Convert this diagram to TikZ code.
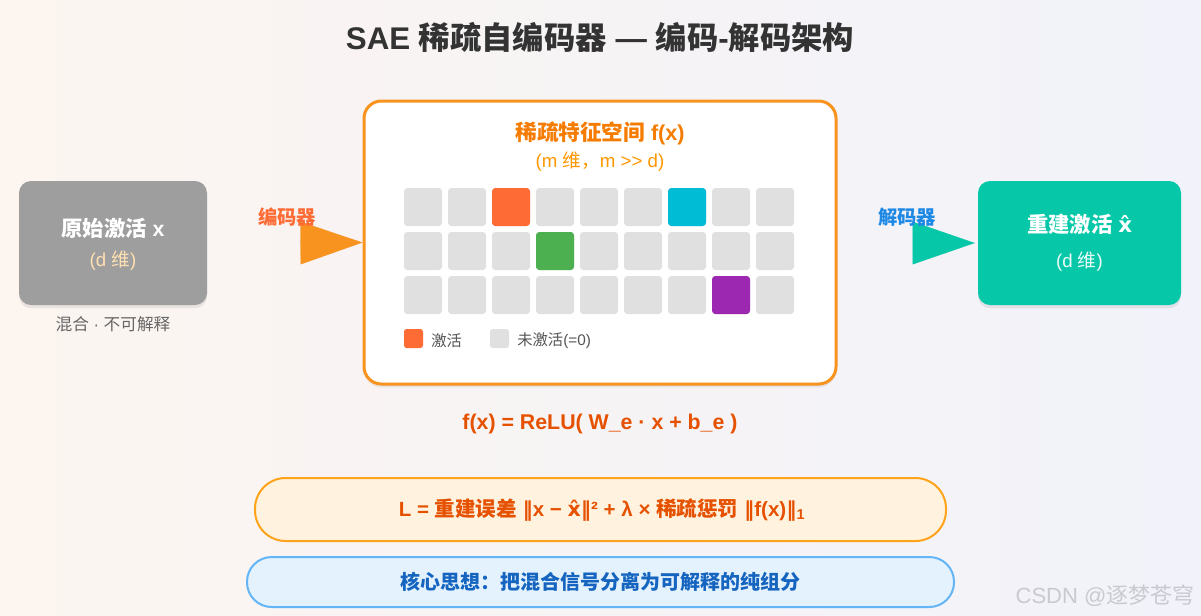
\documentclass[tikz,border=0pt]{standalone}
\usepackage{fontspec}
\setmainfont{Liberation Sans}
\newfontfamily\cjk{Noto Sans CJK SC}
\newfontfamily\dejavu{DejaVu Sans}
\usetikzlibrary{arrows.meta,shadows}
\definecolor{bgL}{HTML}{FCF5F0}
\definecolor{bgR}{HTML}{F1F2FA}
\definecolor{titlec}{HTML}{333333}
\definecolor{grayc}{HTML}{9E9E9E}
\definecolor{tealc}{HTML}{06C8A8}
\definecolor{orangeb}{HTML}{F7931E}
\definecolor{ctitle}{HTML}{F57C00}
\definecolor{csub}{HTML}{FF9800}
\definecolor{enclab}{HTML}{FF6B35}
\definecolor{declab}{HTML}{1E88E5}
\definecolor{formc}{HTML}{E65100}
\definecolor{lossfill}{HTML}{FFF3E0}
\definecolor{lossdraw}{HTML}{FFA31A}
\definecolor{keyfill}{HTML}{E3F2FD}
\definecolor{keydraw}{HTML}{64B5F6}
\definecolor{keytext}{HTML}{1565C0}
\definecolor{peach}{HTML}{FFE0B2}
\definecolor{cellgray}{HTML}{E0E0E0}
\definecolor{actorange}{HTML}{FF6B35}
\definecolor{actcyan}{HTML}{00BCD4}
\definecolor{actgreen}{HTML}{4CAF50}
\definecolor{actpurple}{HTML}{9C27B0}
\definecolor{legtext}{HTML}{555555}
\definecolor{subgray}{HTML}{666666}
\definecolor{wmark}{HTML}{C9CAD0}
\newcommand\fs[1]{\fontsize{#1}{#1}\selectfont}
\newcommand\nrm{{\dejavu\bfseries ‖}}
\newcommand\xh{{\dejavu\bfseries x̂}}
\tikzset{
  softshadow/.style={drop shadow={shadow xshift=0pt,shadow yshift=-2.5pt,opacity=0.07,fill=black}},
  sidebox/.style={rounded corners=9pt,minimum width={188*0.75pt},minimum height={124*0.75pt},inner sep=0pt,softshadow},
  cell/.style={fill=cellgray,rounded corners=2.5pt,minimum width={38*0.75pt},minimum height={38*0.75pt},inner sep=0pt},
  legsq/.style={rounded corners=2pt,minimum width={19*0.75pt},minimum height={19*0.75pt},inner sep=0pt},
  plain/.style={inner sep=0pt},
  bigtip/.style={line width=0.2pt,-{Triangle[length=46.5pt,width=32pt]}},
}
\begin{document}
\begin{tikzpicture}[x=0.75pt,y=-0.75pt]
\shade[left color=bgL,right color=bgR] (0,0) rectangle (1201,615);
\useasboundingbox (0,0) rectangle (1201,615);

% title
\node[plain,font=\fs{23.5}\bfseries,text=titlec] (title) at (600,37) {SAE {\cjk 稀疏自编码器} — {\cjk 编码}-{\cjk 解码架构}};

% left box
\node[sidebox,fill=grayc] (left) at (113,243) {};
\node[plain,font=\fs{16}\bfseries,text=white] (lefta) at (113,228) {{\cjk 原始激活} x};
\node[plain,font=\fs{14},text=peach] (leftb) at (113,261) {(d {\cjk 维})};
\node[plain,font=\fs{12.5},text=subgray] (leftc) at (113,324) {{\cjk 混合} · {\cjk 不可解释}};

% center box
\node[draw=orangeb,line width=2.25pt,fill=white,rounded corners=13pt,minimum width={472*0.75pt},minimum height={283*0.75pt},inner sep=0pt,softshadow] (center) at (600,242.5) {};
\node[plain,font=\fs{16.2}\bfseries,text=ctitle] (ctitle) at (600,133) {{\cjk 稀疏特征空间} f(x)};
\node[plain,font=\fs{14},text=csub] (csub) at (600,162) {(m {\cjk 维，}m >{}> d)};

\foreach \j in {0,1,2}{
  \foreach \i in {0,...,8}{
    \node[cell] (c-\i-\j) at ({423+44*\i},{207+44*\j}) {};
  }
}
\node[cell,fill=actorange] (a1) at (c-2-0) {};
\node[cell,fill=actcyan] (a2) at (c-6-0) {};
\node[cell,fill=actgreen] (a3) at (c-3-1) {};
\node[cell,fill=actpurple] (a4) at (c-7-2) {};

% legend
\node[legsq,fill=actorange] (lg1) at (413.5,338.5) {};
\node[plain,anchor=west,font=\fs{11.5},text=legtext] (lg1t) at (431,341) {{\cjk 激活}};
\node[legsq,fill=cellgray] (lg2) at (499.5,338.5) {};
\node[plain,anchor=west,font=\fs{11.5},text=legtext] (lg2t) at (517,341) {{\cjk 未激活}(=0)};

% encoder arrow
\coordinate (encstart) at (300,243);
\draw[bigtip,draw=orangeb,fill=orangeb] (encstart) -- (center.west);
\node[plain,font=\fs{14.5}\bfseries,text=enclab] (enclabel) at (287,217) {{\cjk 编码器}};

% right box
\node[sidebox,fill=tealc,minimum width={203*0.75pt}] (right) at (1079.5,243) {};
\node[plain,font=\fs{16}\bfseries,text=white] (righta) at (1079.5,224) {{\cjk 重建激活} \xh};
\node[plain,font=\fs{14},text=white,opacity=0.92] (rightb) at (1079.5,262) {(d {\cjk 维})};

% decoder arrow
\coordinate (decstart) at (913,243);
\draw[bigtip,draw=tealc,fill=tealc,shorten >=2.25pt] (decstart) -- (right.west);
\node[plain,font=\fs{14.5}\bfseries,text=declab] (declabel) at (907,217) {{\cjk 解码器}};

% formula
\node[plain,font=\fs{16}\bfseries,text=formc] (formula) at (600,424) {f(x) = ReLU( W\_e · x + b\_e )};

% loss box
\node[draw=lossdraw,line width=1.5pt,fill=lossfill,rounded corners=23pt,minimum width={691*0.75pt},minimum height={63*0.75pt},inner sep=0pt] (loss) at (600.5,509.5) {};
\node[plain,font=\fs{15.4}\bfseries,text=formc] (losst) at (602,510) {L = {\cjk 重建误差} \nrm x − \xh\nrm² + λ × {\cjk 稀疏惩罚} \nrm f(x)\nrm\textsubscript{1}};

% key box
\node[draw=keydraw,line width=1.5pt,fill=keyfill,rounded corners=18.5pt,minimum width={707*0.75pt},minimum height={50*0.75pt},inner sep=0pt] (key) at (600.5,582) {};
\node[plain,font=\fs{15}\bfseries,text=keytext] (keyt) at (600.5,582) {{\cjk 核心思想：把混合信号分离为可解释的纯组分}};

% watermark
\node[plain,font=\fs{16.5},text=wmark] (wm) at (1105,596) {CSDN @{\cjk 逐梦苍穹}};
\end{tikzpicture}
\end{document}
